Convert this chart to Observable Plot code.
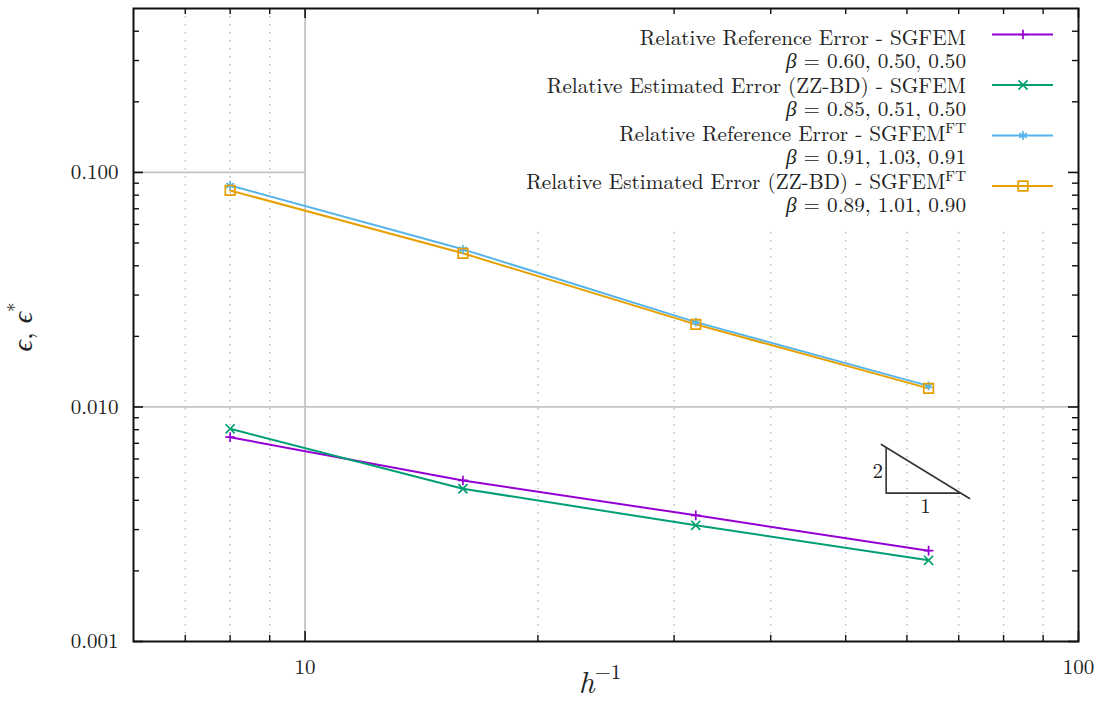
<!DOCTYPE html>
<html><head><meta charset="utf-8">
<script src="https://cdn.jsdelivr.net/npm/d3@7"></script>
<script src="https://cdn.jsdelivr.net/npm/@observablehq/plot@0.6"></script>
<style>body{margin:0;background:#fff} svg{display:block}</style>
</head><body><div id="chart"></div>
<script>
// ---- data ----
const hInv = [8, 16, 32, 64];
const refSGFEM = [0.00743, 0.00486, 0.00345, 0.00244];
const estSGFEM = [0.00807, 0.00448, 0.00313, 0.00222];
const refFT = [0.0880, 0.0470, 0.0230, 0.0123];
const estFT = [0.0838, 0.0452, 0.0225, 0.0120];
const seriesLabels = ["Relative Reference Error - SGFEM", "Relative Estimated Error (ZZ-BD) - SGFEM", "Relative Reference Error - SGFEM", "Relative Estimated Error (ZZ-BD) - SGFEM"];
const seriesSup = ["", "", "FT", "FT"];
const betaLabels = ["0.60, 0.50, 0.50", "0.85, 0.51, 0.50", "0.91, 1.03, 0.91", "0.89, 1.01, 0.90"];
const seriesColors = ["#9400d3", "#009e73", "#56b4e9", "#e69f00"];
const seriesSymbols = ["plus", "times", "asterisk", "square"];
const xDomain = [6, 100];
const yDomain = [0.001, 0.5];
const xMajorTicks = [10, 100];
const xMinorTicks = [7, 8, 9, 20, 30, 40, 50, 60, 70, 80, 90];
const yMajorTicks = [0.001, 0.01, 0.1];
const yMinorTicks = [0.002,0.003,0.004,0.005,0.006,0.007,0.008,0.009,0.02,0.03,0.04,0.05,0.06,0.07,0.08,0.09,0.2,0.3,0.4];
const legendBox = [{x1: 10, x2: 100, y1: 0.0589, y2: 0.5}];
const triHyp = [{x: 55.6, y: 0.00692}, {x: 72.3, y: 0.00407}];
const triLegs = [{x: 56.4, y: 0.00665}, {x: 56.4, y: 0.00429}, {x: 70.2, y: 0.00429}];
const triLabels = [{x: 55.0, y: 0.00531, t: "2"}, {x: 63.4, y: 0.00378, t: "1"}];

const allSeries = [refSGFEM, estSGFEM, refFT, estFT];
const names = ["s0", "s1", "s2", "s3"];
const rows = [];
allSeries.forEach((vals, k) => hInv.forEach((x, i) => rows.push({x, y: vals[i], k: names[k]})));

// ---- layout ----
const W = 1102, H = 703, mL = 133, mR = 24, mT = 8, mB = 62;
const innerW = W - mL - mR, innerH = H - mT - mB;
const FONT = "'Latin Modern Roman', 'Liberation Serif', 'DejaVu Serif', serif";
const TXT = "#222";
const dotR = [3.2, 4.2, 4.2, 5.4];

const plot = Plot.plot({
  width: W, height: H, marginLeft: mL, marginRight: mR, marginTop: mT, marginBottom: mB,
  style: {fontFamily: FONT, fontSize: "21px", color: TXT, background: "white"},
  x: {type: "log", domain: xDomain},
  y: {type: "log", domain: yDomain},
  color: {domain: names, range: seriesColors},
  symbol: {domain: names, range: seriesSymbols},
  marks: [
    Plot.ruleX(xMinorTicks, {stroke: "#b4b4b4", strokeWidth: 1.3, strokeDasharray: "1.5,6.5"}),
    Plot.ruleY([0.01, 0.1], {stroke: "#c4c4c4", strokeWidth: 1.8}),
    Plot.rect(legendBox, {x1: "x1", x2: "x2", y1: "y1", y2: "y2", fill: "white"}),
    Plot.ruleX([10], {stroke: "#c4c4c4", strokeWidth: 1.8}),
    Plot.line(rows, {x: "x", y: "y", z: "k", stroke: "k", strokeWidth: 2}),
    ...names.map((n, k) => Plot.dot(rows.filter(d => d.k === n), {x: "x", y: "y", stroke: "k", symbol: "k", r: dotR[k], strokeWidth: 1.7, fill: "none"})),
    Plot.line(triHyp, {x: "x", y: "y", stroke: "#333", strokeWidth: 1.6}),
    Plot.line(triLegs, {x: "x", y: "y", stroke: "#333", strokeWidth: 1.6}),
    Plot.text(triLabels, {x: "x", y: "y", text: "t", fontSize: 21, fill: TXT, fontFamily: FONT}),
    // inward ticks
    Plot.tickY(yMajorTicks, {insetRight: innerW - 10, stroke: "#111", strokeWidth: 1.6}),
    Plot.tickY(yMajorTicks, {insetLeft: innerW - 10, stroke: "#111", strokeWidth: 1.6}),
    Plot.tickY(yMinorTicks, {insetRight: innerW - 6, stroke: "#111", strokeWidth: 1.4}),
    Plot.tickY(yMinorTicks, {insetLeft: innerW - 6, stroke: "#111", strokeWidth: 1.4}),
    Plot.tickX(xMajorTicks, {insetTop: innerH - 10, stroke: "#111", strokeWidth: 1.6}),
    Plot.tickX(xMajorTicks, {insetBottom: innerH - 10, stroke: "#111", strokeWidth: 1.6}),
    Plot.tickX(xMinorTicks, {insetTop: innerH - 6, stroke: "#111", strokeWidth: 1.4}),
    Plot.tickX(xMinorTicks, {insetBottom: innerH - 6, stroke: "#111", strokeWidth: 1.4}),
    Plot.frame({stroke: "#111", strokeWidth: 2}),
    Plot.axisY(yMajorTicks, {tickSize: 0, tickPadding: 15, tickFormat: d3.format(".3f"), label: null, fontSize: 21, fontFamily: FONT}),
    Plot.axisX(xMajorTicks, {tickSize: 0, tickPadding: 18, tickFormat: d => String(d), label: null, fontSize: 21, fontFamily: FONT})
  ]
});

const svg = d3.select(plot);
const lg = svg.append("g").attr("font-size", 21.2).attr("fill", TXT);
const d3Sym = {plus: d3.symbolPlus, times: d3.symbolTimes, asterisk: d3.symbolAsterisk, square: d3.symbolSquare};
seriesLabels.forEach((lab, i) => {
  const y0 = 44.5 + 48 * i;
  const t = lg.append("text").attr("x", 966).attr("y", y0).attr("text-anchor", "end");
  t.append("tspan").text(lab);
  if (seriesSup[i]) t.append("tspan").attr("font-size", 15).attr("dy", -8).text(seriesSup[i]);
  const b = lg.append("text").attr("x", 966).attr("y", y0 + 23.5).attr("text-anchor", "end");
  b.append("tspan").attr("font-style", "italic").text("β");
  b.append("tspan").text(" = " + betaLabels[i]);
  const sy = 34.5 + 50.5 * i;
  lg.append("line").attr("x1", 992).attr("x2", 1053).attr("y1", sy).attr("y2", sy)
    .attr("stroke", seriesColors[i]).attr("stroke-width", 2);
  lg.append("path").attr("d", d3.symbol(d3Sym[seriesSymbols[i]], Math.PI * dotR[i] * dotR[i])())
    .attr("transform", `translate(1023,${sy})`).attr("fill", "none")
    .attr("stroke", seriesColors[i]).attr("stroke-width", 1.7);
});

// axis labels
const yl = svg.append("text").attr("font-size", 28).attr("fill", TXT)
  .attr("text-anchor", "middle").attr("transform", "translate(32,327) rotate(-90)");
yl.append("tspan").attr("font-style", "italic").text("ϵ");
yl.append("tspan").text(", ");
yl.append("tspan").attr("font-style", "italic").text("ϵ");
yl.append("tspan").attr("font-size", 19).attr("dy", -11).text("*");

const xl = svg.append("text").attr("font-size", 31).attr("fill", TXT)
  .attr("text-anchor", "middle").attr("x", 600).attr("y", 693);
xl.append("tspan").attr("font-style", "italic").text("h");
xl.append("tspan").attr("font-size", 21).attr("dy", -14).text("−1");

svg.selectAll("text").style("font-family", FONT);
document.getElementById("chart").appendChild(plot);
</script>
</body></html>
